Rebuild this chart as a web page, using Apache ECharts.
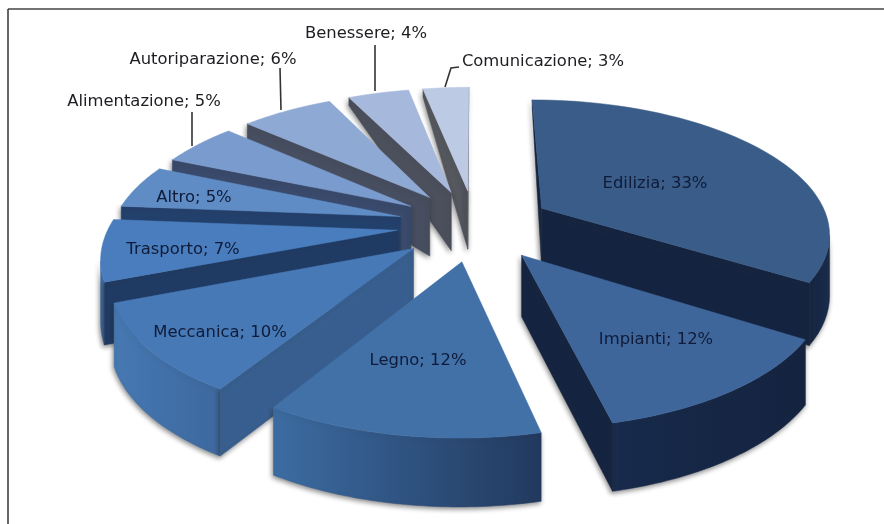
<!DOCTYPE html>
<html><head><meta charset="utf-8">
<style>html,body{margin:0;padding:0;background:#fff}#c{width:884px;height:524px}</style>
<script src="https://cdn.jsdelivr.net/npm/echarts@6/dist/echarts.min.js"></script>
</head><body><div id="c"></div>
<script>
// ---- data ----
const categories = ['Edilizia','Impianti','Legno','Meccanica','Trasporto','Altro','Alimentazione','Autoriparazione','Benessere','Comunicazione'];
const shares = [33,12,12,10,7,5,5,6,4,3];

// ---- styles (same order as categories) ----
const topColors  = ['#3a5c88','#3f669b','#4271a8','#4679b6','#4a7dbd','#5f8cc4','#7a9bce','#8ea9d3','#a6b9dc','#bccbe3'];
const edgeColors = ['#14233f','#14233f','#345f94','#375e8e','#1f3a63','#22406c','#3a4a6c','#464e60','#4c505c','#55585f'];
const rimLeft    = ['#14233f','#172a4c','#3c6ca2','#4678b2','#3f6ca6','#466fa5','#5a6a8c','#5a6278','#5a6070','#60636c'];
const rimRight   = ['#1a2c4c','#14233f','#22395e','#3c689e','#3f6ca6','#466fa5','#5a6a8c','#5a6278','#5a6070','#60636c'];
// label text boxes: centre in pixels
const labelCentres = [[655,184],[656,340],[418,361],[220,333],[183,250],[194,198],[144,102],[213,60],[366,34],[543,62]];
const leaders = {6:[[192,112],[192,146]],7:[[280,68],[281,110]],8:[[375,45],[375,91]],9:[[459,67],[451,68],[445,87]]};

// ---- tilted pie projection ----
const CX=475, CY=225, FX=288, FY=132, K=0.17, EXPLODE=0.27, STEPS=48;
const total = shares.reduce((a,b)=>a+b,0);
function project(X,Y){const w=1-K*Y;return [CX+FX*X/w, CY+FY*Y/w];}
function drop(Y){
  const front=60+7*Y;
  if(Y>=-0.4) return front;
  const t=Math.min(1,(-0.4-Y)/0.7);
  return (60-2.8)*(1-t)+8*t;
}
function base(X,Y){const p=project(X,Y);return [p[0],p[1]+drop(Y)];}
function dir(a){return [Math.sin(a),-Math.cos(a)];}
function signed(poly){let s=0;for(let i=0;i<poly.length;i++){const a=poly[i],b=poly[(i+1)%poly.length];s+=a[0]*b[1]-b[0]*a[1];}return s;}

const cum=[];shares.reduce((acc,v,i)=>{cum[i]=acc;return acc+v;},0);

function renderItem(params,api){
  const i=params.dataIndex, v=api.value(1);
  const a0=cum[i]/total*2*Math.PI, a1=(cum[i]+v)/total*2*Math.PI, mid=(a0+a1)/2;
  const m=dir(mid), ax=EXPLODE*m[0], ay=EXPLODE*m[1];
  const pts=[];
  for(let s=0;s<=STEPS;s++){const d=dir(a0+(a1-a0)*s/STEPS);pts.push([ax+d[0],ay+d[1]]);}
  const apex=[ax,ay];
  const z=Math.round((ay+1)*100);
  const children=[];
  const shadow={shadowBlur:5,shadowColor:'rgba(40,40,40,0.55)',shadowOffsetY:2,shadowOffsetX:-1};
  function wall(list,fill,extra){
    const top=list.map(p=>project(p[0],p[1])), bot=list.map(p=>base(p[0],p[1])).reverse();
    children.push({type:'polygon',z2:z,shape:{points:top.concat(bot)},style:Object.assign({fill:fill,stroke:fill,lineWidth:0.5},extra||{})});
  }
  // outer rim: only the run of segments facing the viewer
  let run=[];
  for(let s=0;s<STEPS;s++){
    const p=pts[s],q=pts[s+1];
    const quad=[project(p[0],p[1]),project(q[0],q[1]),base(q[0],q[1]),base(p[0],p[1])];
    if(signed(quad)<0){ if(!run.length) run.push(p); run.push(q); }
  }
  if(run.length>1){
    wall(run,{type:'linear',x:0,y:0,x2:1,y2:0,colorStops:[{offset:0,color:rimLeft[i]},{offset:1,color:rimRight[i]}]},shadow);
  }
  // radial walls
  const last=pts[STEPS];
  [[apex,pts[0]],[last,apex]].forEach(e=>{
    const quad=[project(e[0][0],e[0][1]),project(e[1][0],e[1][1]),base(e[1][0],e[1][1]),base(e[0][0],e[0][1])];
    if(signed(quad)<0) wall(e,edgeColors[i],shadow);
  });
  // top face
  const face=[project(apex[0],apex[1])].concat(pts.map(p=>project(p[0],p[1])));
  children.push({type:'polygon',z2:z+1,shape:{points:face},style:{fill:topColors[i],stroke:topColors[i],lineWidth:0.5}});
  // label and leader
  if(leaders[i]) children.push({type:'polyline',z2:500,shape:{points:leaders[i]},style:{stroke:'#333',lineWidth:1.6,fill:null}});
  children.push({type:'text',z2:501,style:{text:api.value(0)+'; '+v+'%',x:labelCentres[i][0],y:labelCentres[i][1],
    align:'center',verticalAlign:'middle',fill:i<6?'#0f1b38':'#1d1d22',font:'16.4px "DejaVu Sans"'}});
  return {type:'group',children:children};
}

const chart=echarts.init(document.getElementById('c'),null,{renderer:'canvas'});
chart.setOption({
  animation:false,
  backgroundColor:'#fff',
  graphic:[
    {type:'line',shape:{x1:8,y1:9,x2:884,y2:9},style:{stroke:'#444',lineWidth:1.5}},
    {type:'line',shape:{x1:8,y1:9,x2:8,y2:524},style:{stroke:'#333',lineWidth:1.5}}
  ],
  series:[{type:'custom',coordinateSystem:'none',renderItem:renderItem,
    data:categories.map((c,i)=>[c,shares[i]]),silent:true,clip:false}]
});
</script></body></html>
